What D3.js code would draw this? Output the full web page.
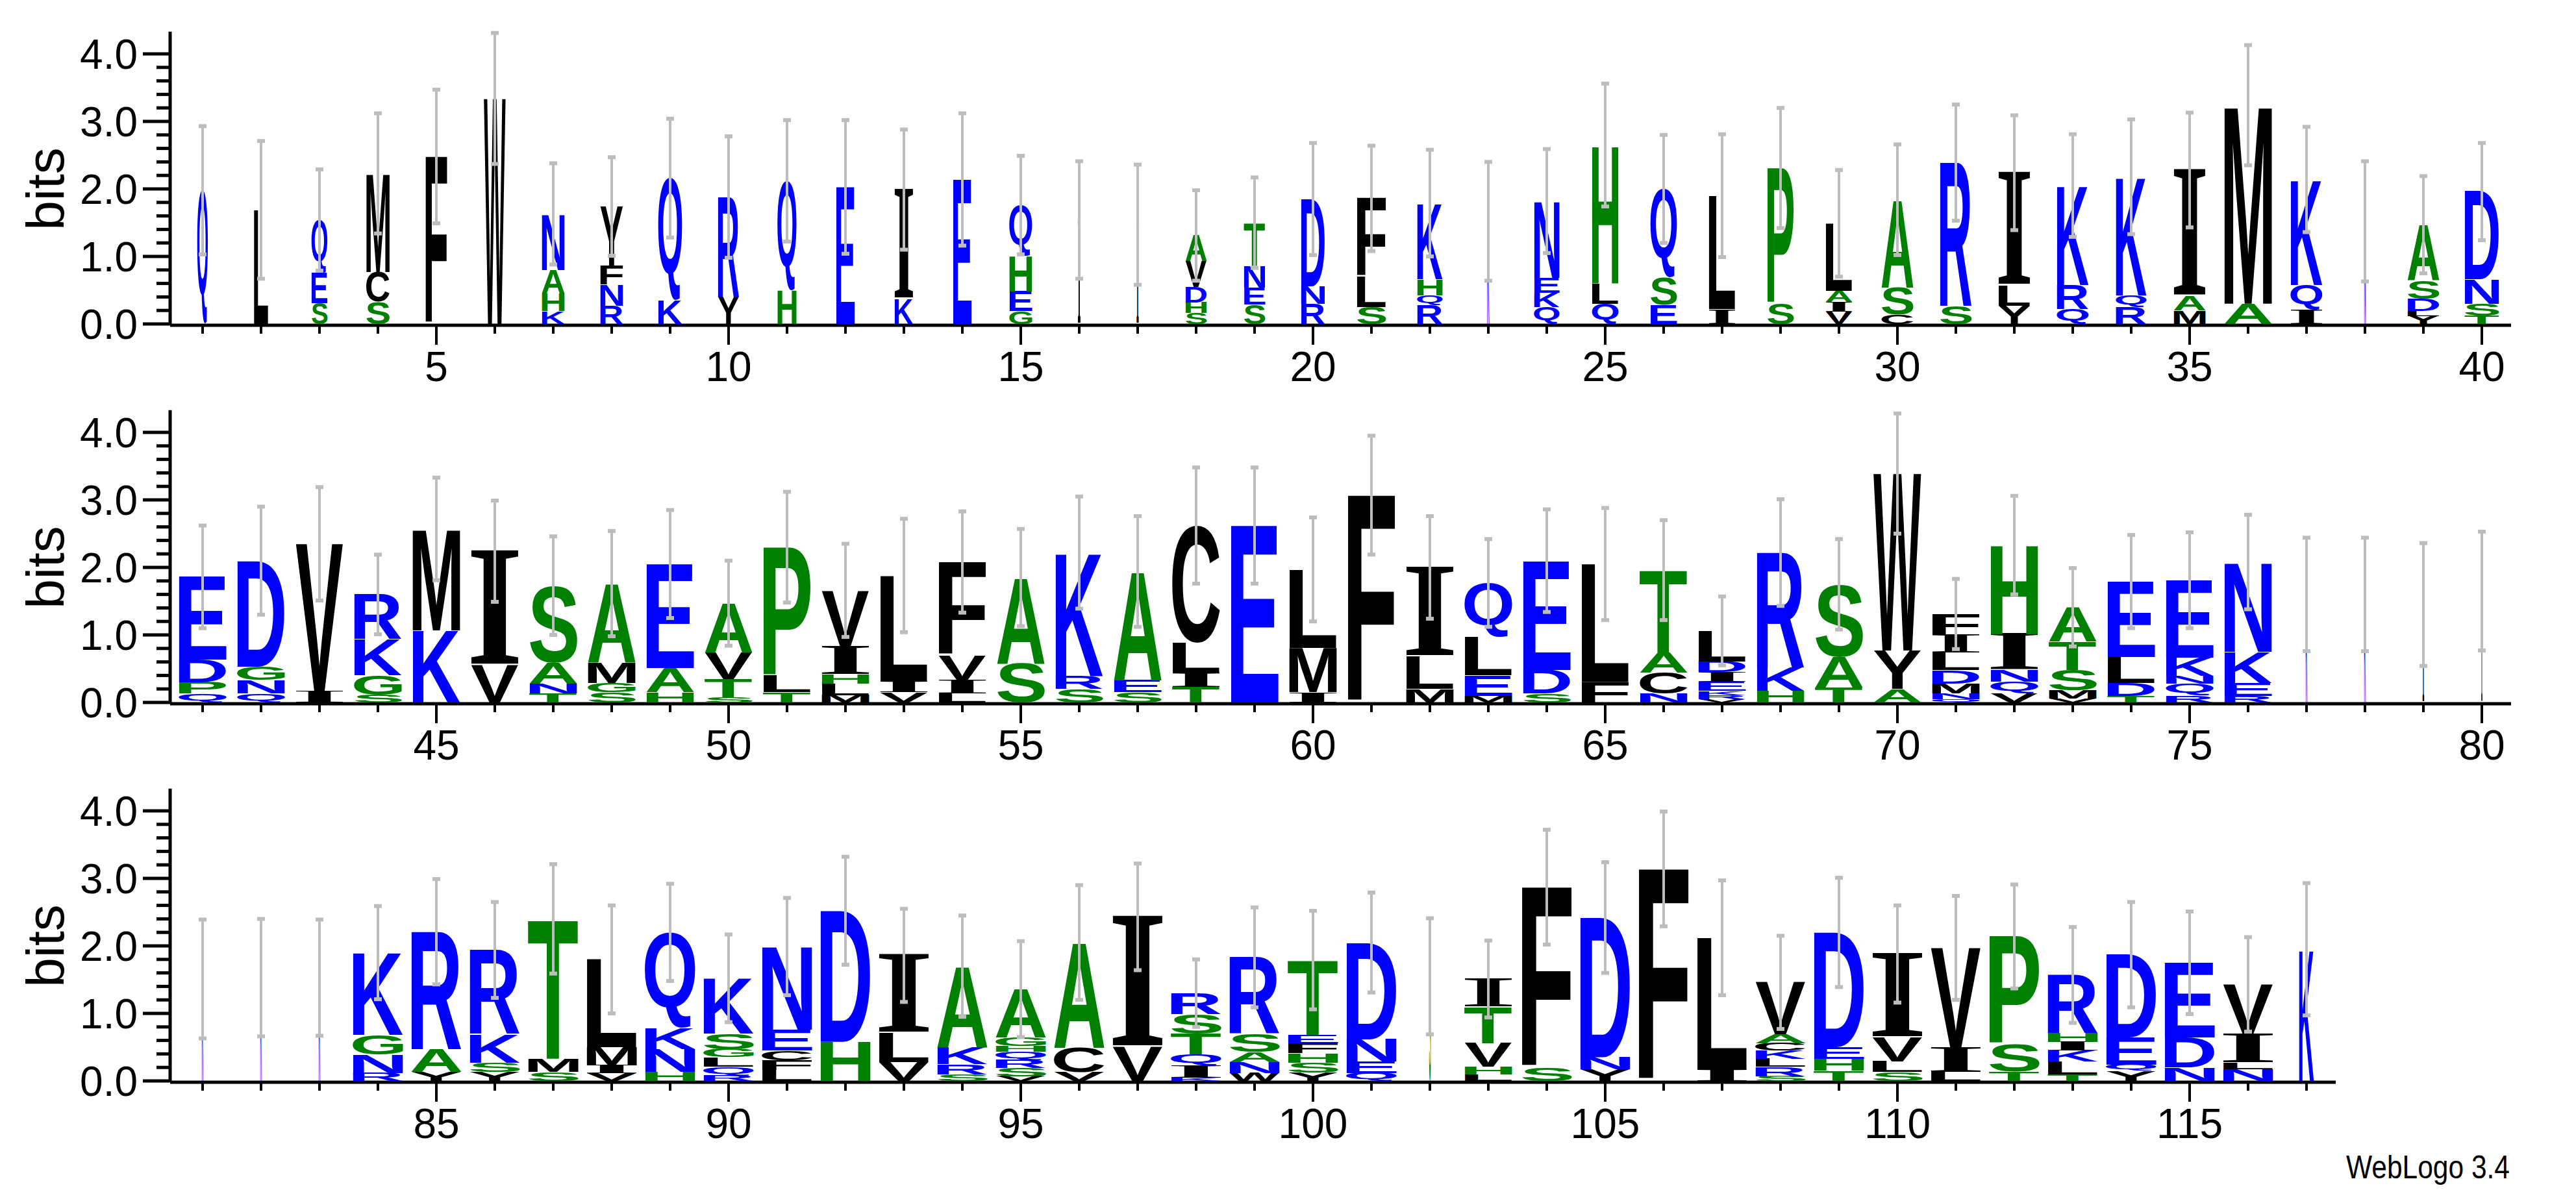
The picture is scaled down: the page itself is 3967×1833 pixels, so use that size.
<!DOCTYPE html>
<html>
<head>
<meta charset="utf-8">
<script src="https://cdn.jsdelivr.net/npm/d3@7"></script>
<style>
  body { margin: 0; background: #fff; }
  svg { display: block; font-family: "Liberation Sans", Arial, sans-serif; }
</style>
</head>
<body>
<svg id="logo" width="3967" height="1833"></svg>
<script>
// letters of each stack, bottom to top (position 1..117)
var letters = [
  "Q","L","SEQ","SCM","F","W","KHAN","RNFY","KQ","YR",
  "HQ","E","KI","E","GEHQ","I","I","SHDVA","SENT","RND",
  "SLF","RQHK","K","QKEN","QLH","ESQ","IL","SP","VIAL","CSA",
  "SR","YLI","QRK","RQK","MAI","AM","IQK","N","YLDSA","TSND",
  "QPDE","QNGD","IV","SGKR","KM","VI","TNAS","SGMA","HAE","STVA",
  "TLP","MLHIV","VIL","LIVF","SA","SRK","SEA","TILC","E","IML",
  "F","MLI","MELQ","SDE","FL","NCAT","VRKEIDL","HKR","TAS","AYW",
  "QNMDLIF","VQNIH","VMSTA","TDLE","RQNKE","REKN","K","K","I","I",
  "K","K","K","RNGK","YAR","YSKR","SMT","VIML","HNKQ","RQLGSK",
  "LFCEN","HD","VLI","SRKA","VSRQHGA","VCA","VI","KIQTSR","WNASR","YSHFET",
  "QEND","S","LHVTI","SF","YND","F","IL","SRLKCAV","THED","SLVI",
  "LIV","TSP","TLKIHR","YQED","NDE","NLIV","K"
];
// cumulative top of each letter in bits
var tops = [
  [1.98],[1.69],[0.31,0.76,1.54],[0.33,0.77,2.23],[2.48],[3.34],[0.19,0.45,0.8,1.63],[0.27,0.58,0.87,1.74],[0.35,2.16],[0.4,1.88],
  [0.5,2.12],[2.03],[0.37,1.99],[2.14],[0.19,0.48,1.0,1.76],[1.54],[1.47],[0.16,0.32,0.55,0.93,1.31],[0.29,0.54,0.86,1.5],[0.3,0.56,1.85],
  [0.25,0.7,1.86],[0.28,0.42,0.66,1.79],[1.52],[0.25,0.46,0.68,1.82],[0.3,0.6,2.65],[0.28,0.69,2.0],[0.22,1.9],[0.3,2.31],[0.18,0.33,0.49,1.49],[0.14,0.54,1.84],
  [0.27,2.39],[0.27,0.57,2.24],[0.22,0.58,2.05],[0.25,0.42,2.18],[0.2,0.41,2.28],[0.3,3.24],[0.22,0.58,2.14],[1.52],[0.12,0.19,0.37,0.64,1.47],[0.12,0.3,0.66,1.96],
  [0.13,0.3,0.63,1.86],[0.13,0.33,0.53,2.1],[0.17,2.35],[0.11,0.4,0.94,1.6],[1.07,2.57],[0.55,2.24],[0.13,0.28,0.59,1.73],[0.15,0.29,0.59,1.76],[0.15,0.51,2.05],[0.08,0.35,0.74,1.47],
  [0.15,0.39,2.3],[0.11,0.28,0.42,0.83,1.66],[0.15,0.31,1.88],[0.13,0.33,0.7,2.08],[0.58,1.85],[0.2,0.39,2.22],[0.15,0.33,1.94],[0.23,0.44,0.88,2.62],[2.62],[0.15,0.81,1.97],
  [3.07],[0.2,0.68,2.0],[0.1,0.4,0.96,1.77],[0.13,0.48,2.1],[0.3,2.05],[0.13,0.44,0.74,1.96],[0.05,0.11,0.17,0.31,0.45,0.61,1.06],[0.17,0.52,2.22],[0.22,0.68,1.75],[0.2,0.77,3.39],
  [0.05,0.13,0.28,0.48,0.74,1.01,1.31],[0.14,0.31,0.48,1.01,2.33],[0.06,0.18,0.48,0.9,1.41],[0.1,0.29,0.67,1.79],[0.1,0.28,0.39,0.66,1.81],[0.1,0.29,0.75,2.08],[1.6],[1.6],[1.45],[1.65],
  [1.51],[1.53],[1.53],[0.12,0.39,0.68,1.9],[0.13,0.47,2.21],[0.13,0.27,0.7,1.94],[0.13,0.33,2.4],[0.11,0.23,0.5,1.8],[0.13,0.47,0.78,2.2],[0.08,0.21,0.35,0.47,0.7,1.52],
  [0.16,0.31,0.45,0.76,1.99],[0.58,2.52],[0.28,0.71,1.86],[0.1,0.25,0.5,1.7],[0.07,0.19,0.31,0.43,0.52,0.64,1.36],[0.13,0.49,2.05],[0.5,2.43],[0.05,0.23,0.39,0.7,0.99,1.3],[0.12,0.28,0.43,0.7,1.83],[0.12,0.27,0.41,0.56,0.68,1.79],
  [0.12,0.29,0.62,2.05],[1.55],[0.1,0.21,0.56,1.1,1.51],[0.2,2.87],[0.17,0.35,2.42],[3.14],[0.17,2.12],[0.07,0.21,0.33,0.45,0.56,0.69,1.46],[0.15,0.33,0.5,2.2],[0.13,0.29,0.64,1.88],
  [0.13,0.49,1.97],[0.14,0.54,2.14],[0.1,0.29,0.45,0.58,0.71,1.57],[0.15,0.24,0.64,1.87],[0.2,0.64,1.75],[0.17,0.27,0.7,1.43],[1.95]
];
// relative stack width
var widths = [
  0.2,0.27,0.3,0.44,0.41,0.41,0.43,0.43,0.45,0.4,
  0.36,0.35,0.35,0.35,0.43,0.05,0.04,0.4,0.4,0.45,
  0.55,0.48,0.04,0.48,0.5,0.5,0.5,0.5,0.5,0.6,
  0.6,0.6,0.6,0.58,0.6,0.9,0.6,0.03,0.6,0.65,
  0.9,0.9,0.9,0.9,0.9,0.9,0.9,0.9,0.9,0.9,
  0.9,0.9,0.9,0.9,0.9,0.9,0.9,0.9,0.9,0.9,
  0.9,0.9,0.9,0.9,0.9,0.9,0.9,0.9,0.9,0.9,
  0.9,0.9,0.9,0.9,0.9,0.9,0.03,0.03,0.03,0.02,
  0.03,0.03,0.03,0.95,0.95,0.95,0.95,0.95,0.95,0.95,
  0.95,0.95,0.95,0.95,0.95,0.95,0.95,0.95,0.95,0.95,
  0.95,0.03,0.9,0.95,0.95,0.95,0.95,0.95,0.95,0.95,
  0.95,0.95,0.95,0.95,0.95,0.95,0.28
];
// half length of error bar, bits
var errors = [
  0.95,1.02,0.75,0.89,0.99,0.97,0.75,0.73,0.88,0.9,
  0.9,0.99,0.89,0.98,0.73,0.87,0.89,0.67,0.67,0.83,
  0.78,0.79,0.88,0.77,0.91,0.8,0.91,0.89,0.79,0.82,
  0.86,0.85,0.76,0.85,0.85,0.89,0.78,0.89,0.72,0.72,
  0.76,0.8,0.84,0.59,0.76,0.75,0.73,0.78,0.8,0.63,
  0.82,0.69,0.84,0.75,0.72,0.83,0.82,0.86,0.86,0.77,
  0.88,0.76,0.65,0.76,0.83,0.74,0.51,0.79,0.67,0.89,
  0.52,0.73,0.58,0.69,0.71,0.7,0.84,0.84,0.91,0.88,
  0.88,0.87,0.86,0.69,0.78,0.71,0.81,0.8,0.72,0.65,
  0.72,0.8,0.69,0.75,0.71,0.85,0.79,0.5,0.74,0.73,
  0.74,0.86,0.57,0.85,0.82,0.85,0.85,0.69,0.81,0.72,
  0.77,0.77,0.71,0.78,0.76,0.7,0.98
];
var panelStarts = [1, 41, 81];
var panelEnds = [40, 80, 117];
var yTicks = [0, 1, 2, 3, 4];

var blue = "QEDNKR", green = "HSATGP";
function colorOf(c) {
  if (blue.indexOf(c) >= 0) return "#0000ff";
  if (green.indexOf(c) >= 0) return "#008000";
  return "#000000";
}

var svg = d3.select("#logo");
var ctx = document.createElement("canvas").getContext("2d");
function fontOf(c) {
  // the logo's I has serifs
  return c === "I" ? "'Liberation Serif'" : "'Liberation Sans'";
}
var metrics = {};
function glyph(c) {
  if (!metrics[c]) {
    ctx.font = "bold 100px " + fontOf(c);
    var m = ctx.measureText(c);
    metrics[c] = {l: m.actualBoundingBoxLeft, r: m.actualBoundingBoxRight,
                  a: m.actualBoundingBoxAscent, d: m.actualBoundingBoxDescent};
  }
  return metrics[c];
}

var baselines = [499, 1082, 1665];

panelStarts.forEach(function(start, p) {
  var base = baselines[p];
  var x = d3.scaleLinear().domain([start - 0.5, start + 39.5]).range([267, 3867]);
  var y = d3.scaleLinear().domain([0, 4]).range([base, base - 416]);
  var g = svg.append("g");
  var end = panelEnds[p];

  // y axis
  g.append("line").attr("x1", 262).attr("x2", 262)
    .attr("y1", base + 2).attr("y2", y(4.33))
    .attr("stroke", "#000").attr("stroke-width", 5);
  d3.range(0, 4.01, 0.2).forEach(function(v) {
    var major = Math.abs(v - Math.round(v)) < 1e-6;
    g.append("line").attr("x1", major ? 220 : 241).attr("x2", 262)
      .attr("y1", y(v)).attr("y2", y(v))
      .attr("stroke", "#000").attr("stroke-width", 5);
  });
  yTicks.forEach(function(v) {
    g.append("text").attr("x", 212).attr("y", y(v) + 23)
      .attr("text-anchor", "end").attr("font-size", 64)
      .text(v.toFixed(1));
  });
  g.append("text")
    .attr("transform", "translate(98," + y(2) + ") rotate(-90)")
    .attr("text-anchor", "middle").attr("font-size", 82).text("bits");

  // x axis
  g.append("line").attr("x1", 262).attr("x2", x(end + 0.5))
    .attr("y1", base + 2).attr("y2", base + 2)
    .attr("stroke", "#000").attr("stroke-width", 5);
  d3.range(start, end + 1).forEach(function(i) {
    var major = i % 5 === 0;
    g.append("line").attr("x1", x(i)).attr("x2", x(i))
      .attr("y1", base + 2).attr("y2", base + (major ? 32 : 15))
      .attr("stroke", "#000").attr("stroke-width", 4);
    if (major) {
      g.append("text").attr("x", x(i)).attr("y", base + 88)
        .attr("text-anchor", "middle").attr("font-size", 64).text(i);
    }
  });

  // stacks
  d3.range(start, end + 1).forEach(function(i) {
    var k = i - 1;
    var w = widths[k] * 82;
    var bx = x(i) - w / 2;
    var prev = 0;
    letters[k].split("").forEach(function(c, j) {
      var t = tops[k][j];
      var by = y(t), bh = y(prev) - y(t);
      prev = t;
      if (bh <= 0.5) return;
      var m = glyph(c);
      var sx = w / (m.l + m.r), sy = bh / (m.a + m.d);
      g.append("text").text(c)
        .attr("font-family", fontOf(c))
        .attr("font-size", 100).attr("font-weight", "bold")
        .attr("fill", colorOf(c))
        .attr("transform", "translate(" + (bx + m.l * sx) + "," + (by + m.a * sy) + ") scale(" + sx + "," + sy + ")");
    });
    // error bar
    var top = tops[k][tops[k].length - 1], e = errors[k];
    var eb = g.append("g").attr("stroke", "#bdbdbd");
    eb.append("line").attr("x1", x(i)).attr("x2", x(i))
      .attr("y1", y(top - e)).attr("y2", y(top + e)).attr("stroke-width", 4);
    [top - e, top + e].forEach(function(v) {
      eb.append("line").attr("x1", x(i) - 6).attr("x2", x(i) + 6)
        .attr("y1", y(v)).attr("y2", y(v)).attr("stroke-width", 6);
    });
  });
});

svg.append("text").attr("x", 3865).attr("y", 1815)
  .attr("text-anchor", "end").attr("font-size", 50)
  .attr("transform", "translate(3865,1815) scale(0.85,1) translate(-3865,-1815)")
  .text("WebLogo 3.4");
</script>
</body>
</html>
